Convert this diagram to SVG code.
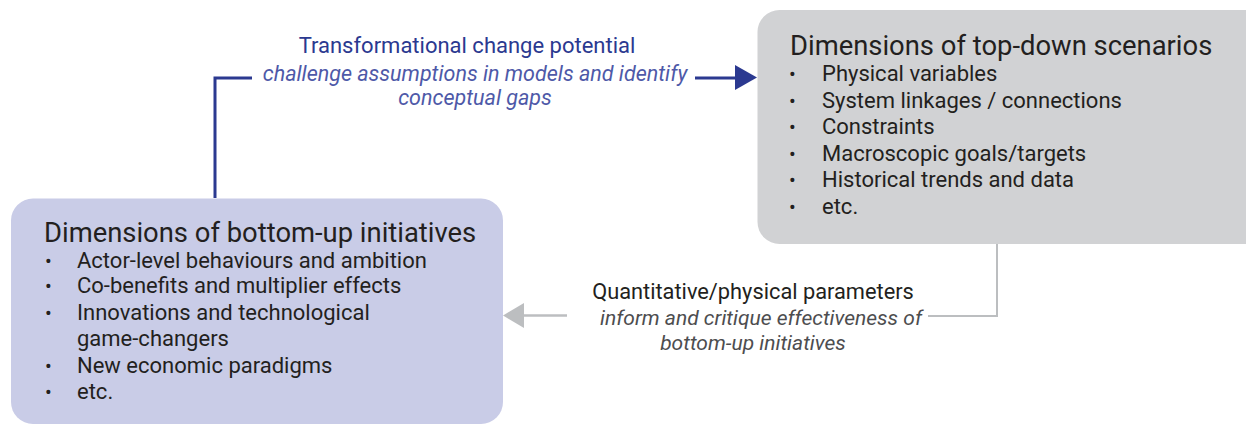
<svg xmlns="http://www.w3.org/2000/svg" width="1246" height="426" viewBox="0 0 1246 426">
<style>
text{font-family:Roboto,"Liberation Sans",sans-serif;}
.title{font-size:27.4px;fill:#231f20;}
.item{font-size:22px;fill:#231f20;}
.bul{font-size:20px;fill:#231f20;}
.lblb{font-size:22px;fill:#2b3990;text-anchor:middle;}
.lblbi{font-size:21.5px;fill:#4e59a8;font-style:italic;text-anchor:middle;}
.lblg{font-size:21.8px;fill:#231f20;text-anchor:middle;}
.lblgi{font-size:21px;fill:#4d4d4f;font-style:italic;text-anchor:middle;}
</style>
<rect width="1246" height="426" fill="#ffffff"/>
<g id="connectors">
  <polyline points="215,198 215,78 252,78" fill="none" stroke="#2b3990" stroke-width="3"/>
  <line x1="695" y1="78" x2="737" y2="78" stroke="#2b3990" stroke-width="3"/>
  <polygon points="735,65 757,77.5 735,90" fill="#2b3990"/>
  <polyline points="997,244 997,316 928,316" fill="none" stroke="#bcbec0" stroke-width="2"/>
  <line x1="522" y1="315.5" x2="567" y2="315.5" stroke="#bcbec0" stroke-width="2.5"/>
  <polygon points="524,303 503,315.5 524,328" fill="#bcbec0"/>
  <text class="lblb" x="467" y="53">Transformational change potential</text>
  <text class="lblbi" x="475" y="80.5">challenge assumptions in models and identify</text>
  <text class="lblbi" x="475" y="105">conceptual gaps</text>
  <text class="lblg" x="753" y="298.5">Quantitative/physical parameters</text>
  <text class="lblgi" x="761" y="324.5">inform and critique effectiveness of</text>
  <text class="lblgi" x="753" y="350">bottom-up initiatives</text>
</g>
<g id="topdown">
  <rect x="757.5" y="10" width="510" height="234" rx="22" fill="#d1d2d4"/>
  <text class="title" x="790" y="54.5">Dimensions of top-down scenarios</text>
  <text class="bul" x="789" y="81">•</text><text class="item" x="822" y="81">Physical variables</text>
  <text class="bul" x="789" y="107.5">•</text><text class="item" x="822" y="107.5">System linkages / connections</text>
  <text class="bul" x="789" y="134">•</text><text class="item" x="822" y="134">Constraints</text>
  <text class="bul" x="789" y="160.5">•</text><text class="item" x="822" y="160.5">Macroscopic goals/targets</text>
  <text class="bul" x="789" y="187">•</text><text class="item" x="822" y="187">Historical trends and data</text>
  <text class="bul" x="789" y="213.5">•</text><text class="item" x="822" y="213.5">etc.</text>
</g>
<g id="bottomup">
  <rect x="11" y="198.5" width="492" height="225.5" rx="22" fill="#c9cce7"/>
  <text class="title" x="44" y="242">Dimensions of bottom-up initiatives</text>
  <text class="bul" x="45" y="267.5">•</text><text class="item" x="77" y="267.5">Actor-level behaviours and ambition</text>
  <text class="bul" x="45" y="293">•</text><text class="item" x="77" y="293">Co-benefits and multiplier effects</text>
  <text class="bul" x="45" y="319.5">•</text><text class="item" x="77" y="319.5">Innovations and technological</text>
  <text class="item" x="77" y="346">game-changers</text>
  <text class="bul" x="45" y="372.5">•</text><text class="item" x="77" y="372.5">New economic paradigms</text>
  <text class="bul" x="45" y="399">•</text><text class="item" x="77" y="399">etc.</text>
</g>
</svg>
